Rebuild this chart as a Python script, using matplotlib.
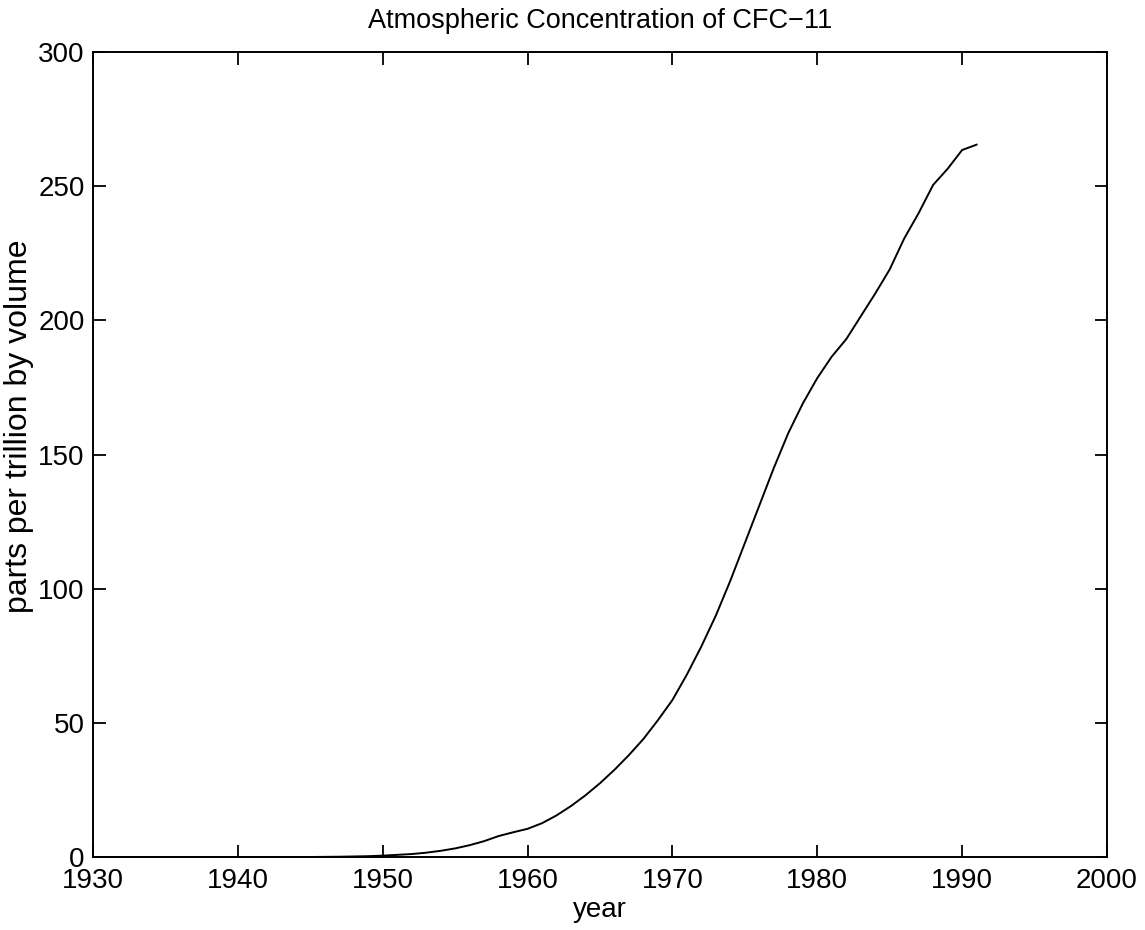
import matplotlib
matplotlib.use("Agg")
import matplotlib.pyplot as plt
import numpy as np

# CFC-11 atmospheric concentration, annual values (pptv)
years = np.arange(1930, 1992)
ppt = [0, 0, 0, 0, 0, 0, 0, 0, 0, 0,
       0, 0, 0, 0, 0, 0, 0.05, 0.1, 0.2, 0.3,
       0.5, 0.8, 1.1, 1.6, 2.3, 3.2, 4.4, 5.9, 7.8, 9.2,
       10.5, 12.6, 15.5, 19.0, 23.0, 27.5, 32.5, 38.0, 44.0, 51.0,
       58.5, 68.0, 78.5, 90.0, 103.0, 117.0, 131.0, 145.0, 158.0, 169.0,
       178.5, 186.5, 193.0, 201.5, 210.0, 219.0, 230.5, 240.0, 250.5, 256.5,
       263.5, 265.5]

xticks = [1930, 1940, 1950, 1960, 1970, 1980, 1990, 2000]
yticks = [0, 50, 100, 150, 200, 250, 300]

plt.rcParams['font.family'] = ['Liberation Sans', 'DejaVu Sans']

fig = plt.figure(figsize=(11.45, 9.3), dpi=100)
ax = fig.add_axes([0.0812, 0.0785, 0.8856, 0.8655])

ax.plot(years, ppt, color='black', linewidth=1.4)

ax.set_xlim(1930, 2000)
ax.set_ylim(0, 300)
ax.set_xticks(xticks)
ax.set_yticks(yticks)
ax.tick_params(direction='in', length=9, width=1.3, top=True, right=True,
               labelsize=20, colors='black')
ax.tick_params(axis='x', pad=8)
ax.tick_params(axis='y', pad=6)
for s in ax.spines.values():
    s.set_linewidth(1.4)

ax.set_title("Atmospheric Concentration of CFC\u221211", fontsize=19.5, pad=17)
ax.set_xlabel("year", fontsize=20, labelpad=2)
ax.set_ylabel("parts per trillion by volume", fontsize=23)
ax.yaxis.set_label_coords(-0.058, 0.535)

fig.savefig("out.png", dpi=100)
